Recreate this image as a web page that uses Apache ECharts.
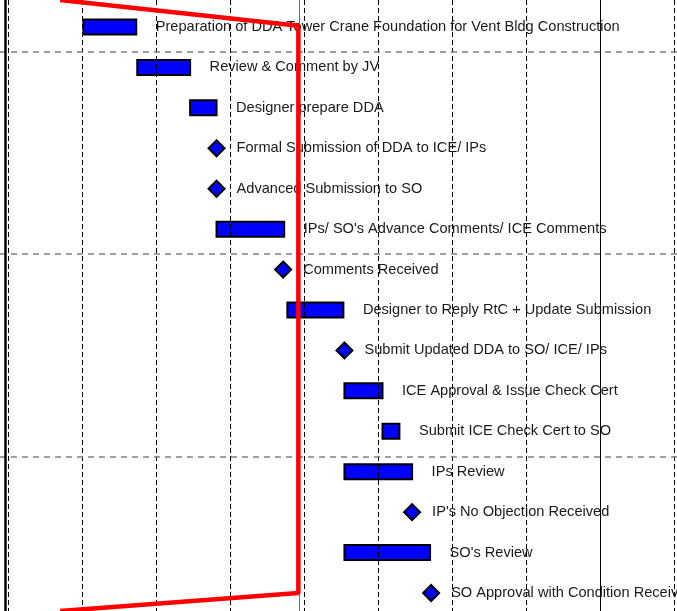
<!DOCTYPE html>
<html>
<head>
<meta charset="utf-8">
<script src="https://cdn.jsdelivr.net/npm/echarts@6/dist/echarts.min.js"></script>
<style>
html,body{margin:0;padding:0;background:#fff;}
#chart{width:677px;height:611px;}
</style>
</head>
<body>
<div id="chart"></div>
<script>
// ---- data (x in days from the first visible week line, y = row index) ----
const taskNames = [
  "Preparation of DDA Tower Crane Foundation for Vent Bldg Construction",
  "Review & Comment by JV",
  "Designer prepare DDA",
  "Formal Submission of DDA to ICE/ IPs",
  "Advanced Submission to SO",
  "IPs/ SO's Advance Comments/ ICE Comments",
  "Comments Received",
  "Designer to Reply RtC + Update Submission",
  "Submit Updated DDA to SO/ ICE/ IPs",
  "ICE Approval & Issue Check Cert",
  "Submit ICE Check Cert to SO",
  "IPs Review",
  "IP's No Objection Received",
  "SO's Review",
  "SO Approval with Condition Received"
];
const taskKind  = ["bar","bar","bar","ms","ms","bar","ms","bar","ms","bar","bar","bar","ms","bar","ms"];
const taskStart = [7.1, 12.2, 17.2, 19.7, 19.7, 19.7, 26.0, 26.4, 31.8, 31.8, 35.4, 31.8, 38.2, 31.8, 40.0];
const taskEnd   = [12.1, 17.2, 19.7, 19.7, 19.7, 26.1, 26.0, 31.7, 31.8, 35.4, 37.0, 38.2, 38.2, 39.9, 40.0];

// progress line vertices [day, row]
const progressDays = [4.9, 27.44, 27.44, 4.9];
const progressRows = [-0.668, -0.03, 14.0, 14.445];

const weekLines = [0, 7, 14, 21, 28, 35, 42, 49, 63]; // dashed week lines
const monthLineDay = 56;     // solid vertical line
const statusDate = 27.5;     // blue status-date line
const leftBorderDay = -0.31; // thick left border
const groupLines = [0.62, 5.62, 10.62]; // horizontal dashed separators (row units)

// ---- chart ----
const chart = echarts.init(document.getElementById('chart'), null, {renderer: 'canvas'});

const taskData = taskNames.map((n, i) => [i, taskStart[i], taskEnd[i], taskKind[i] === 'ms' ? 1 : 0]);
const progressData = progressDays.map((d, i) => [d, progressRows[i]]);

const FONT = '14.6px "Liberation Sans", Arial, sans-serif';

const option = {
  backgroundColor: '#ffffff',
  animation: false,
  grid: {left: 0, top: 0, width: 677, height: 611, containLabel: false},
  xAxis: {
    type: 'value', min: -0.785, max: 63.26,
    axisLine: {show: false}, axisTick: {show: false}, axisLabel: {show: false},
    splitLine: {show: false}
  },
  yAxis: {
    type: 'value', inverse: true, min: -0.668, max: 14.445, show: false
  },
  series: [
    {
      type: 'line',
      data: [],
      silent: true,
      markLine: {
        silent: true, symbol: ['none', 'none'], label: {show: false},
        animation: false,
        data: [
          ...weekLines.map(v => ({xAxis: v, lineStyle: {color: '#000', width: 1, type: [5, 3]}})),
          ...groupLines.map(v => ({yAxis: v, lineStyle: {color: '#808080', width: 1.5, type: [6, 5]}})),
          {xAxis: monthLineDay, lineStyle: {color: '#000', width: 1, type: 'solid'}},
          {xAxis: leftBorderDay, lineStyle: {color: '#000', width: 2.5, type: 'solid'}},
          {xAxis: statusDate, lineStyle: {color: '#5a5aff', width: 1, type: 'solid'}}
        ]
      },
      z: 1
    },
    {
      type: 'custom',
      data: taskData,
      z: 3,
      renderItem: function (params, api) {
        const row = api.value(0), s = api.value(1), e = api.value(2), ms = api.value(3);
        const p0 = api.coord([s, row]);
        const p1 = api.coord([e, row]);
        const name = taskNames[params.dataIndex];
        const children = [];
        let textX;
        if (ms) {
          const x = p0[0], y = p0[1];
          children.push({
            type: 'polygon',
            shape: {points: [[x, y - 8], [x + 8, y], [x, y + 8], [x - 8, y]]},
            style: {fill: '#0000ff', stroke: '#000', lineWidth: 2}
          });
          textX = x + 20;
        } else {
          children.push({
            type: 'rect',
            shape: {x: p0[0], y: p0[1] - 7.5, width: p1[0] - p0[0], height: 15},
            style: {fill: '#0000ff', stroke: '#000', lineWidth: 2}
          });
          textX = p1[0] + 19.5;
        }
        children.push({
          type: 'text',
          style: {text: name, x: textX, y: p0[1], font: FONT, fill: '#1a1a1a',
                  align: 'left', verticalAlign: 'middle'}
        });
        return {type: 'group', children: children};
      }
    },
    {
      type: 'line',
      data: progressData,
      symbol: 'none',
      clip: true,
      lineStyle: {color: '#ff0000', width: 4.5},
      z: 5,
      silent: true
    }
  ]
};
chart.setOption(option);
</script>
</body>
</html>
